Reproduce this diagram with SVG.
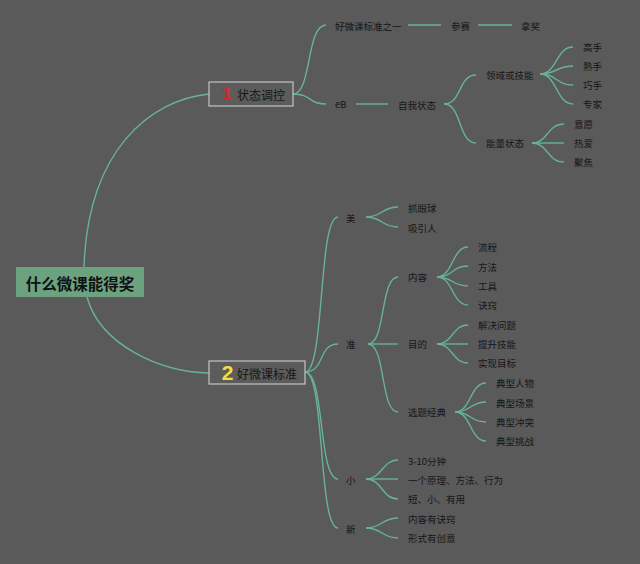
<svg xmlns="http://www.w3.org/2000/svg" width="640" height="564" viewBox="0 0 640 564">
<style>
.bg{fill:#5a5a5a}
.c{fill:none;stroke:#66b495;stroke-width:1.4}
.t{font-family:"Noto Sans CJK SC","Liberation Sans",sans-serif;font-size:9.5px;fill:#161616;dominant-baseline:central}
.m{font-family:"Noto Sans CJK SC","Liberation Sans",sans-serif;font-size:12px;fill:#161616;dominant-baseline:central}
.box{fill:#5c5c5c;stroke:#c4c4c4;stroke-width:1.2}
</style>
<rect class="bg" width="640" height="564"/>
<g id="connectors">
<path class="c" d="M84 267 C88 150 150 100 209 94"/>
<path class="c" d="M87 297 C100 345 160 372 209 373"/>
<path class="c" d="M293 94 C312 94 306 25 326 25"/>
<path class="c" d="M293 94 C312 94 308 104 326 104"/>
<path class="c" d="M408 25 H441"/>
<path class="c" d="M478 25 H512"/>
<path class="c" d="M356 104 H388"/>
<path class="c" d="M444 104 C462 104 458 75 476 75"/>
<path class="c" d="M444 104 C462 104 458 143 476 143"/>
<path class="c" d="M540 74 C557 74 556 47 573 47"/>
<path class="c" d="M540 74 C557 74 556 66 573 66"/>
<path class="c" d="M540 74 C557 74 556 85 573 85"/>
<path class="c" d="M540 74 C557 74 556 104 573 104"/>
<path class="c" d="M532 143 C548 143 547 124 564 124"/>
<path class="c" d="M532 143 H564"/>
<path class="c" d="M532 143 C548 143 547 162 564 162"/>
<path class="c" d="M305 372 C325 372 318 217 338 217"/>
<path class="c" d="M305 372 C325 372 318 344 338 344"/>
<path class="c" d="M305 372 C325 372 318 479 338 479"/>
<path class="c" d="M305 372 C325 372 318 528 338 528"/>
<path class="c" d="M366 217 C382 217 382 207 398 207"/>
<path class="c" d="M366 217 C382 217 382 227 398 227"/>
<path class="c" d="M368 344 C386 344 380 277 398 277"/>
<path class="c" d="M368 344 H398"/>
<path class="c" d="M368 344 C386 344 380 412 398 412"/>
<path class="c" d="M437 277 C453 277 452 247 468 247"/>
<path class="c" d="M437 277 C453 277 452 266 468 266"/>
<path class="c" d="M437 277 C453 277 452 286 468 286"/>
<path class="c" d="M437 277 C453 277 452 305 468 305"/>
<path class="c" d="M437 344 C453 344 452 325 468 325"/>
<path class="c" d="M437 344 H468"/>
<path class="c" d="M437 344 C453 344 452 363 468 363"/>
<path class="c" d="M455 412 C471 412 470 383 486 383"/>
<path class="c" d="M455 412 C471 412 470 402 486 402"/>
<path class="c" d="M455 412 C471 412 470 422 486 422"/>
<path class="c" d="M455 412 C471 412 470 441 486 441"/>
<path class="c" d="M366 479 C382 479 382 460 398 460"/>
<path class="c" d="M366 479 H398"/>
<path class="c" d="M366 479 C382 479 382 499 398 499"/>
<path class="c" d="M366 528 C382 528 382 518 398 518"/>
<path class="c" d="M366 528 C382 528 382 538 398 538"/>
</g>
<g id="root">
<rect x="16" y="267" width="128" height="30" rx="1" fill="#6ca27f"/>
<text x="80" y="282.5" text-anchor="middle" font-family="'Noto Sans CJK SC',sans-serif" font-size="15.5" font-weight="bold" fill="#111" dominant-baseline="central">什么微课能得奖</text>
</g>
<g id="n1">
<rect class="box" x="209" y="82" width="84" height="24"/>
<text x="227" y="93.5" text-anchor="middle" font-family="'Liberation Sans',sans-serif" font-size="19" font-weight="bold" fill="#d42a2f" dominant-baseline="central">1</text>
<text class="m" x="237" y="94.5">状态调控</text>
</g>
<g id="n2">
<rect class="box" x="209" y="361" width="96" height="23"/>
<text x="227.5" y="372" text-anchor="middle" font-family="'Liberation Sans',sans-serif" font-size="21" font-weight="bold" fill="#f2df3c" dominant-baseline="central">2</text>
<text class="m" x="237" y="373">好微课标准</text>
</g>
<g id="n1a"><text class="t" x="335" y="26">好微课标准之一</text></g>
<g id="n1a1"><text class="t" x="451" y="26">参赛</text></g>
<g id="n1a2"><text class="t" x="521" y="26">拿奖</text></g>
<g id="n1b"><text class="t" x="335" y="104">eB</text></g>
<g id="n1b1"><text class="t" x="398" y="105">自我状态</text></g>
<g id="n1b1a"><text class="t" x="486" y="75">领域或技能</text></g>
<g id="n1b1a1"><text class="t" x="583" y="47">高手</text></g>
<g id="n1b1a2"><text class="t" x="583" y="66">熟手</text></g>
<g id="n1b1a3"><text class="t" x="583" y="85">巧手</text></g>
<g id="n1b1a4"><text class="t" x="583" y="104">专家</text></g>
<g id="n1b1b"><text class="t" x="486" y="143">能量状态</text></g>
<g id="n1b1b1"><text class="t" x="574" y="124">意愿</text></g>
<g id="n1b1b2"><text class="t" x="574" y="143">热爱</text></g>
<g id="n1b1b3"><text class="t" x="574" y="162">聚焦</text></g>
<g id="n2a"><text class="t" x="346" y="218">美</text></g>
<g id="n2a1"><text class="t" x="408" y="208">抓眼球</text></g>
<g id="n2a2"><text class="t" x="408" y="228">吸引人</text></g>
<g id="n2b"><text class="t" x="346" y="344">准</text></g>
<g id="n2b1"><text class="t" x="408" y="277">内容</text></g>
<g id="n2b1a"><text class="t" x="478" y="247">流程</text></g>
<g id="n2b1b"><text class="t" x="478" y="267">方法</text></g>
<g id="n2b1c"><text class="t" x="478" y="286">工具</text></g>
<g id="n2b1d"><text class="t" x="478" y="305">诀窍</text></g>
<g id="n2b2"><text class="t" x="408" y="344">目的</text></g>
<g id="n2b2a"><text class="t" x="478" y="325">解决问题</text></g>
<g id="n2b2b"><text class="t" x="478" y="344">提升技能</text></g>
<g id="n2b2c"><text class="t" x="478" y="363">实现目标</text></g>
<g id="n2b3"><text class="t" x="408" y="412">选题经典</text></g>
<g id="n2b3a"><text class="t" x="496" y="383">典型人物</text></g>
<g id="n2b3b"><text class="t" x="496" y="403">典型场景</text></g>
<g id="n2b3c"><text class="t" x="496" y="422">典型冲突</text></g>
<g id="n2b3d"><text class="t" x="496" y="441">典型挑战</text></g>
<g id="n2c"><text class="t" x="346" y="480">小</text></g>
<g id="n2c1"><text class="t" x="408" y="461">3-10分钟</text></g>
<g id="n2c2"><text class="t" x="408" y="480">一个原理、方法、行为</text></g>
<g id="n2c3"><text class="t" x="408" y="499">短、小、有用</text></g>
<g id="n2d"><text class="t" x="346" y="529">新</text></g>
<g id="n2d1"><text class="t" x="408" y="519">内容有诀窍</text></g>
<g id="n2d2"><text class="t" x="408" y="538">形式有创意</text></g>
</svg>
